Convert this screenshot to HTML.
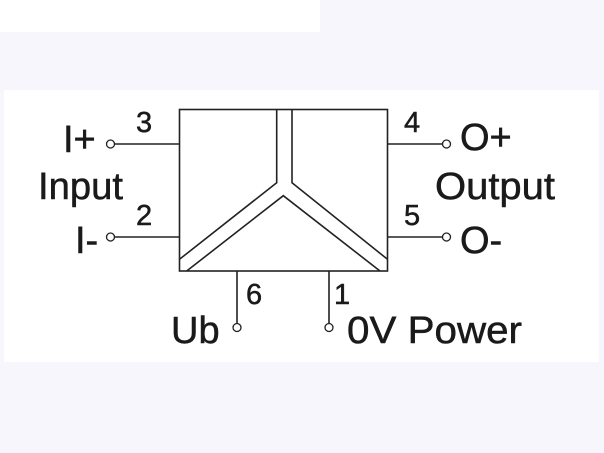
<!DOCTYPE html>
<html><head><style>
html,body{margin:0;padding:0;background:#f6f6fc;}
svg{display:block;}
text{font-family:"Liberation Sans",Arial,sans-serif;fill:#1a1a1a;stroke:#1a1a1a;stroke-width:0.5;}
</style></head><body>
<svg width="604" height="453" viewBox="0 0 604 453">
<rect x="0" y="0" width="604" height="453" fill="#f6f6fc"/>
<rect x="0" y="0" width="320" height="32" fill="#fff"/>
<rect x="4" y="90" width="595" height="272" fill="#fff"/>
<g stroke="#222" stroke-width="1.6" fill="none">
<rect x="179.5" y="109.5" width="208" height="161.5"/>
<polyline points="276.7,109.5 276.7,182.7 179.5,259.3"/>
<polyline points="292,109.5 292,182.7 387.5,259.3"/>
<polyline points="186.7,271 283.3,195.7 380,271"/>
<line x1="115" y1="144" x2="179.5" y2="144"/>
<line x1="115" y1="237" x2="179.5" y2="237"/>
<line x1="387.5" y1="144" x2="442" y2="144"/>
<line x1="387.5" y1="237" x2="442" y2="237"/>
<line x1="237" y1="271" x2="237" y2="323"/>
<line x1="329" y1="271" x2="329" y2="323"/>
</g>
<g stroke="#222" stroke-width="1.3" fill="#fff">
<circle cx="110.5" cy="144" r="4"/>
<circle cx="110.5" cy="237" r="4"/>
<circle cx="446.5" cy="144" r="4"/>
<circle cx="446.5" cy="237" r="4"/>
<circle cx="237" cy="327.5" r="4"/>
<circle cx="329" cy="327.5" r="4"/>
</g>
<g font-size="38">
<text x="63" y="152">I+</text>
<text x="38" y="199" textLength="85" lengthAdjust="spacingAndGlyphs">Input</text>
<text x="75" y="253">I-</text>
<text x="460" y="150">O+</text>
<text x="435" y="199" textLength="120" lengthAdjust="spacingAndGlyphs">Output</text>
<text x="460" y="253">O-</text>
<text x="171" y="343">Ub</text>
<text x="347" y="343" textLength="175" lengthAdjust="spacingAndGlyphs">0V Power</text>
</g>
<g font-size="29">
<text x="136" y="132">3</text>
<text x="136" y="225">2</text>
<text x="404" y="132">4</text>
<text x="404" y="225">5</text>
<text x="246" y="304">6</text>
<text x="334" y="304">1</text>
</g>
</svg>
</body></html>
